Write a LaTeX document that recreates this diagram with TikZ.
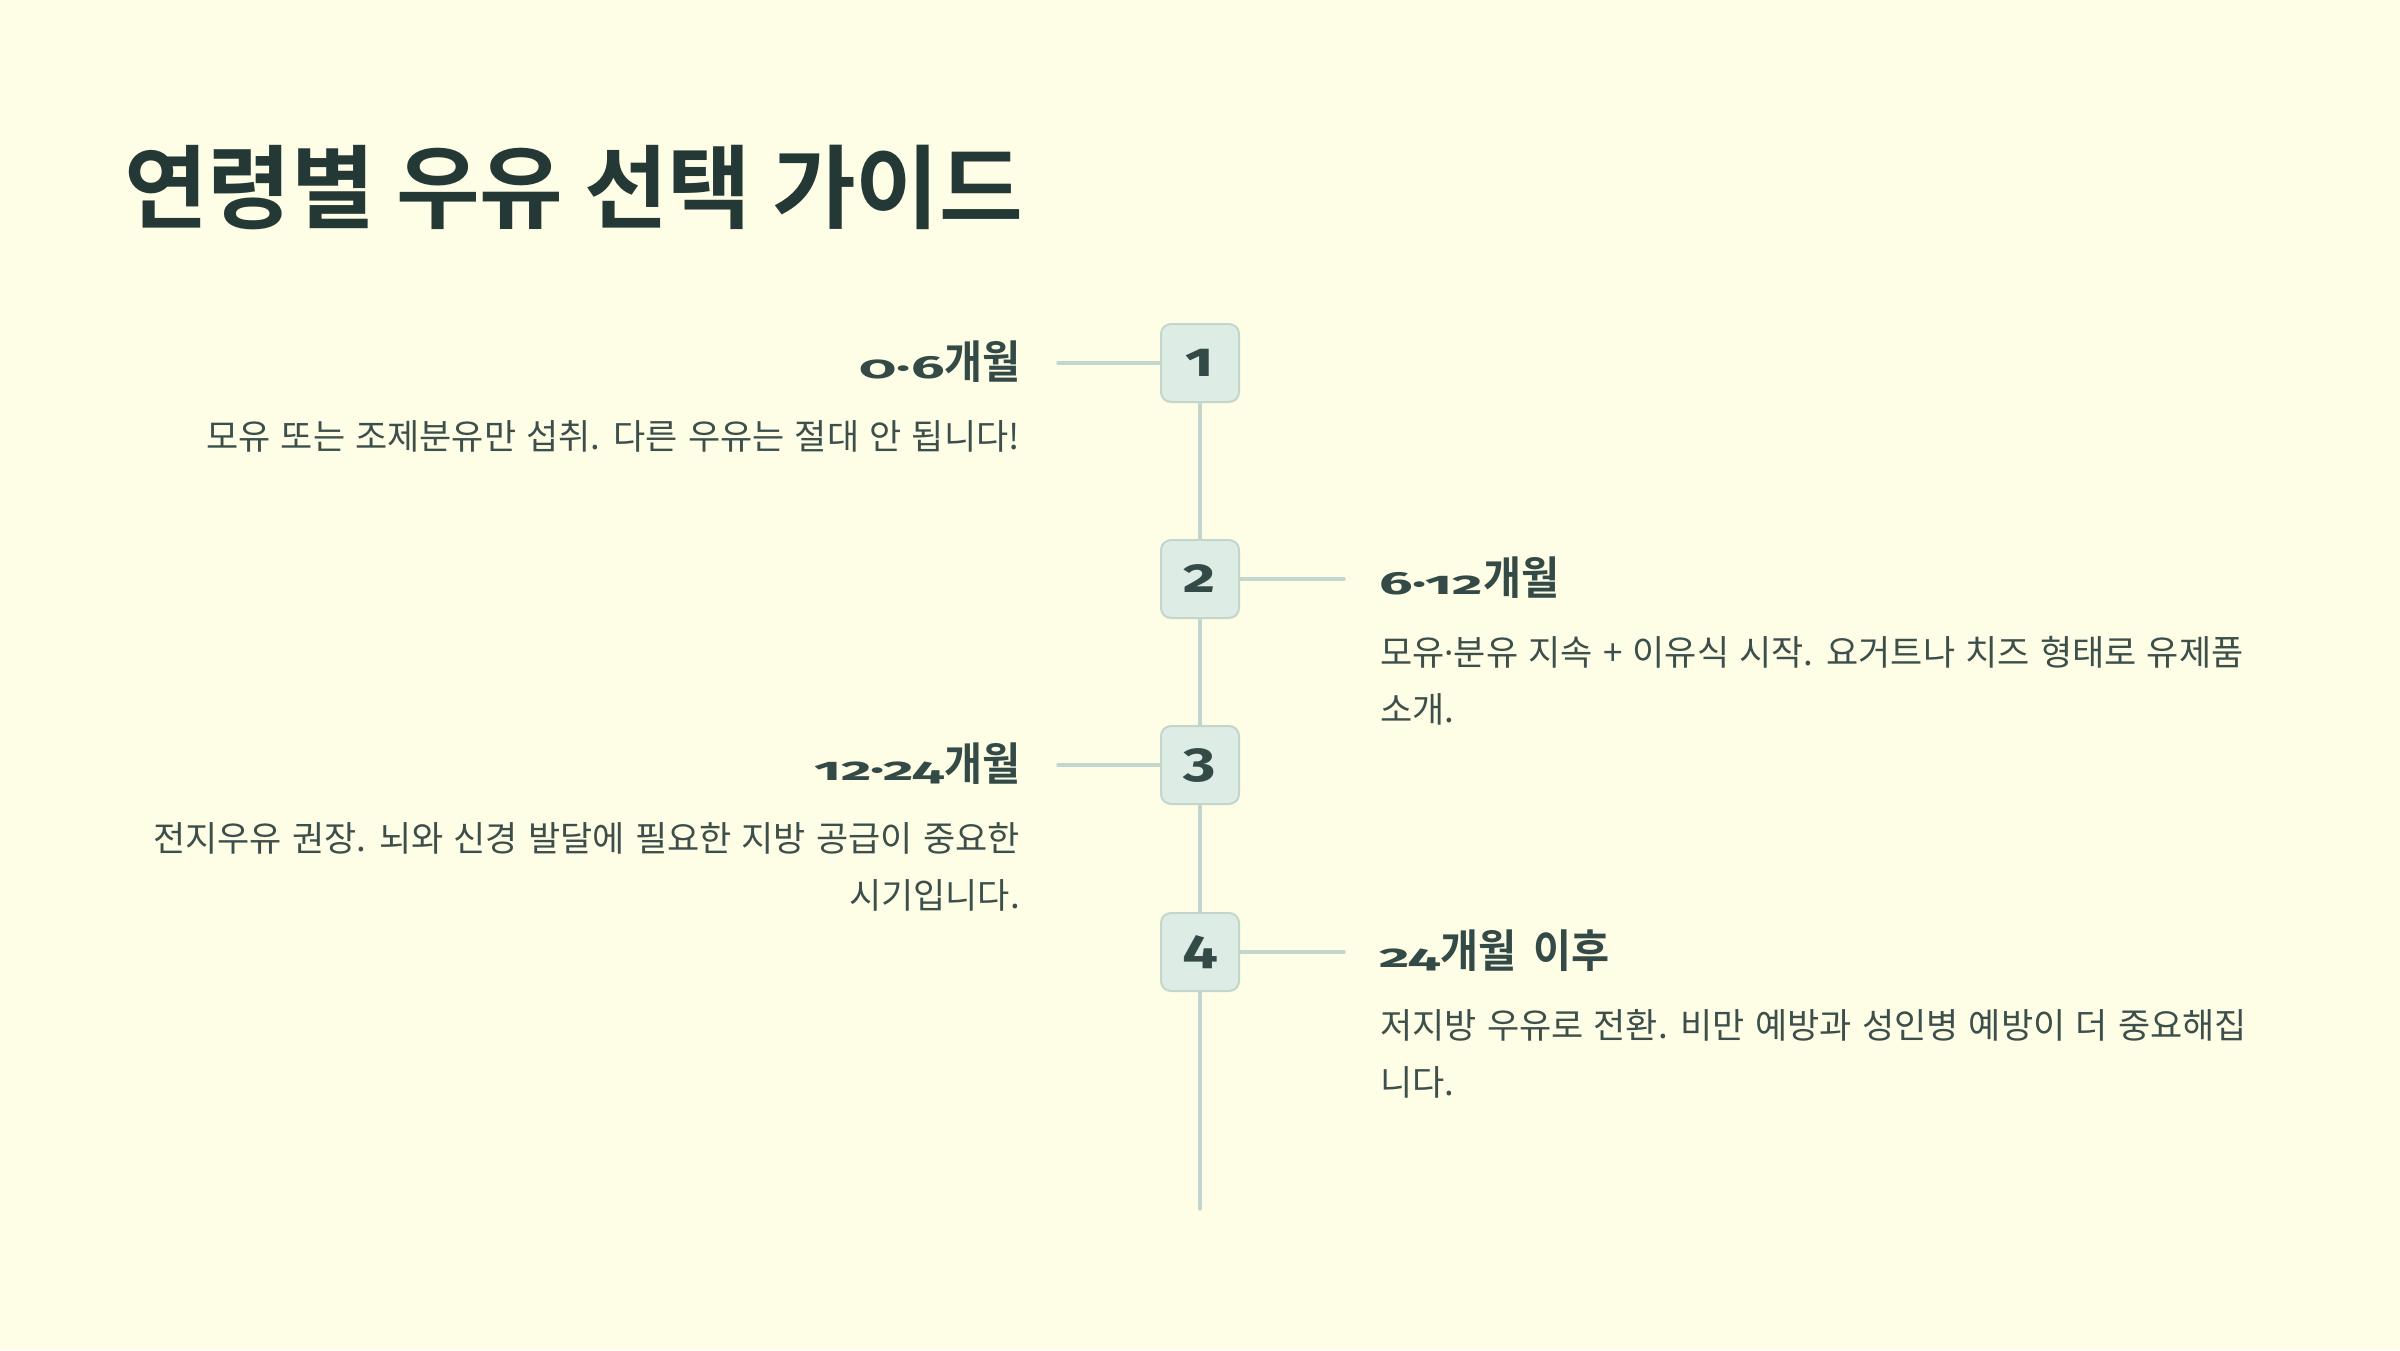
\documentclass[tikz,border=0pt]{standalone}
\usepackage{fontspec}
\newfontfamily\titlefont{Noto Sans CJK KR Bold}
\newfontfamily\headfont[FakeStretch=0.92,WordSpace=1.8]{Noto Sans CJK KR Bold}
\newfontfamily\bodyfont[WordSpace=1.3]{Noto Sans CJK KR}
\newfontfamily\dotfont{Noto Sans}
\newfontfamily\numfont[Numbers=OldStyle,FakeStretch=1.85]{Fira Sans Bold}
\newfontfamily\boxnumfont[Numbers=OldStyle,FakeStretch=1.3]{Fira Sans Bold}
\definecolor{bg}{HTML}{FEFDE6}
\definecolor{titlecol}{HTML}{243836}
\definecolor{headcol}{HTML}{344A47}
\definecolor{bodycol}{HTML}{3C4F4B}
\definecolor{boxfill}{HTML}{DDEDE5}
\definecolor{boxline}{HTML}{C3D6CE}
\newcommand{\hnum}[1]{{\numfont\fontsize{32}{34}\selectfont #1}}
\newcommand{\hkr}[1]{{\headfont\fontsize{45}{50}\selectfont #1}}
\newcommand{\mdot}{{\dotfont ·}}
\tikzset{
  stepbox/.style={draw=boxline, line width=2pt, fill=boxfill, rounded corners=10pt,
    minimum width=78pt, minimum height=78pt, inner sep=0pt, text=headcol,
    font=\boxnumfont\fontsize{48}{50}\selectfont},
  conn/.style={draw=boxline, line width=3.5pt, line cap=round},
  headtxt/.style={inner sep=0pt, text=headcol},
  bodytxt/.style={inner sep=0pt, text=bodycol, font=\bodyfont\fontsize{35}{40}\selectfont},
}
\begin{document}
\begin{tikzpicture}[x=1pt,y=-1pt]
\useasboundingbox (0,0) rectangle (2400,1350);
\fill[bg] (0,0) rectangle (2400,1350);
\node[anchor=west, inner sep=0pt, text=titlecol, font=\titlefont\fontsize{91}{100}\selectfont] (title) at (124,188) {연령별 우유 선택 가이드};

\coordinate (lineend) at (1200,1209);
% boxes
\node[stepbox] (b1) at (1200,363) {1};
\node[stepbox] (b2) at (1200,579) {2};
\node[stepbox] (b3) at (1200,765) {3};
\node[stepbox] (b4) at (1200,952) {4};

% vertical connectors
\draw[conn] (b1.south) -- (b2.north);
\draw[conn] (b2.south) -- (b3.north);
\draw[conn] (b3.south) -- (b4.north);
\draw[conn] (b4.south) -- (lineend);

% horizontal connectors
\coordinate (c1) at (1058,363);
\coordinate (c2) at (1344,579);
\coordinate (c3) at (1058,765);
\coordinate (c4) at (1344,952);
\draw[conn] (b1.west) -- (c1);
\draw[conn] (b2.east) -- (c2);
\draw[conn] (b3.west) -- (c3);
\draw[conn] (b4.east) -- (c4);

% headings
\node[headtxt, anchor=base east] (h1) at (1021,378) {\hnum{0·6}\hkr{개월}};
\node[headtxt, anchor=base west] (h2) at (1379,594) {\hnum{6·12}\hkr{개월}};
\node[headtxt, anchor=base east] (h3) at (1021,780) {\hnum{12·24}\hkr{개월}};
\node[headtxt, anchor=base west] (h4) at (1379,967) {\hnum{24}\hkr{개월 이후}};

% bodies
\node[bodytxt, anchor=base east] (d1) at (1020,449) {모유 또는 조제분유만 섭취. 다른 우유는 절대 안 됩니다!};
\node[bodytxt, anchor=base west] (d2a) at (1380,665) {모유\mdot 분유 지속 + 이유식 시작. 요거트나 치즈 형태로 유제품};
\node[bodytxt, anchor=base west] (d2b) at (1380,722) {소개.};
\node[bodytxt, anchor=base east] (d3a) at (1020,851) {전지우유 권장. 뇌와 신경 발달에 필요한 지방 공급이 중요한};
\node[bodytxt, anchor=base east] (d3b) at (1020,908) {시기입니다.};
\node[bodytxt, anchor=base west] (d4a) at (1380,1038) {저지방 우유로 전환. 비만 예방과 성인병 예방이 더 중요해집};
\node[bodytxt, anchor=base west] (d4b) at (1380,1095) {니다.};
\end{tikzpicture}
\end{document}
